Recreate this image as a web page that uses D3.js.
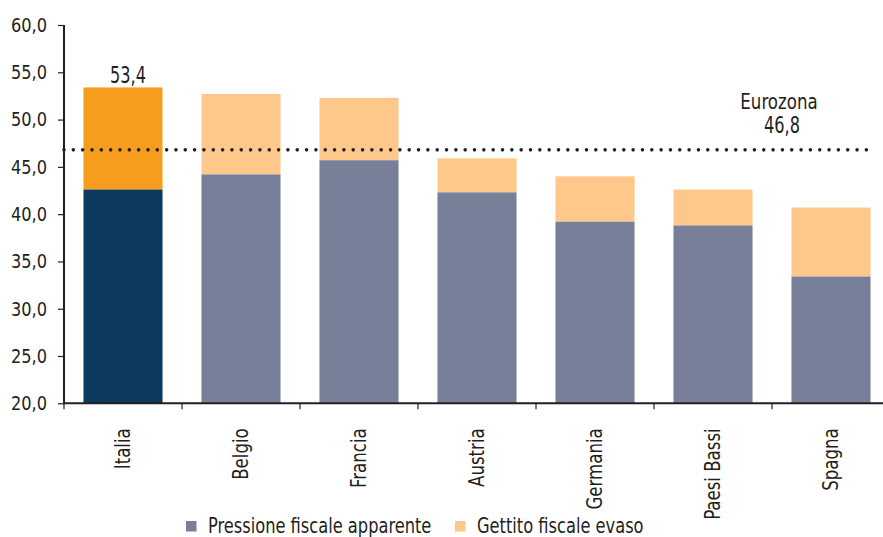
<!DOCTYPE html>
<html><head><meta charset="utf-8">
<script src="https://cdn.jsdelivr.net/npm/d3@7"></script>
<style>
html,body{margin:0;padding:0;background:#fff;}
svg{display:block;font-family:"DejaVu Sans Condensed","DejaVu Sans",sans-serif;}
</style></head><body>
<svg id="c" width="883" height="537"></svg>
<script>
const categories = ["Italia","Belgio","Francia","Austria","Germania","Paesi Bassi","Spagna"];
const pressione = [42.6, 44.2, 45.7, 42.3, 39.2, 38.8, 33.4];
const totale = [53.4, 52.7, 52.3, 45.9, 44.0, 42.6, 40.7];
const eurozona = 46.8;
const yTicks = [20,25,30,35,40,45,50,55,60];
const seriesNames = ["Pressione fiscale apparente","Gettito fiscale evaso"];

(function(){
const svg = d3.select("#c");
const mLeft = 64, mRight = 890, mTop = 25, mBottom = 403.3;
const ink = "#231f20";
const colBase = "#787f98", colEvaso = "#fec88a";
const colItBase = "#0b3a5e", colItEvaso = "#f69d1f";
const fmt = v => d3.format(".1f")(v).replace(".", ",");

// horizontally condense text to mimic a condensed typeface
function condense(sel, k) {
  sel.each(function() {
    const w = this.getComputedTextLength();
    d3.select(this).attr("textLength", w * k).attr("lengthAdjust", "spacingAndGlyphs");
  });
}

const x = d3.scaleBand().domain(categories).range([mLeft, mRight]).paddingInner(0.33).paddingOuter(0.165);
const y = d3.scaleLinear().domain([20, 60]).range([mBottom, mTop]);

const g = svg.append("g");
categories.forEach((c, i) => {
  const it = i === 0;
  g.append("rect").attr("x", x(c)).attr("width", x.bandwidth())
    .attr("y", y(totale[i])).attr("height", y(pressione[i]) - y(totale[i]))
    .attr("fill", it ? colItEvaso : colEvaso);
  g.append("rect").attr("x", x(c)).attr("width", x.bandwidth())
    .attr("y", y(pressione[i])).attr("height", y(20) - y(pressione[i]))
    .attr("fill", it ? colItBase : colBase);
});

const vl = svg.append("text").attr("x", x(categories[0]) + x.bandwidth()/2 + 5).attr("y", y(totale[0]) - 4)
  .attr("text-anchor", "middle").attr("font-size", 23).attr("fill", ink)
  .text(fmt(totale[0]));
condense(vl, 0.78);

svg.append("line").attr("x1", mLeft).attr("x2", 870)
  .attr("y1", y(eurozona)).attr("y2", y(eurozona))
  .attr("stroke", ink).attr("stroke-width", 3.6).attr("stroke-linecap", "round")
  .attr("stroke-dasharray", "0 9.33");
const ez1 = svg.append("text").attr("x", 779).attr("y", 109).attr("text-anchor", "middle")
  .attr("font-size", 22).attr("fill", ink).text("Eurozona");
const ez2 = svg.append("text").attr("x", 782).attr("y", 133).attr("text-anchor", "middle")
  .attr("font-size", 23).attr("fill", ink).text(fmt(eurozona));
condense(ez1, 0.84);
condense(ez2, 0.78);

const yAxis = d3.axisLeft(y).tickValues(yTicks).tickSize(6).tickPadding(11)
  .tickFormat(fmt);
const ya = svg.append("g").attr("transform", `translate(${mLeft},0)`).call(yAxis);
ya.select(".domain").attr("stroke", ink).attr("stroke-width", 2).attr("d", `M0,${mTop}V${mBottom}`);
ya.selectAll(".tick line").attr("stroke", ink).attr("stroke-width", 1.2);
ya.selectAll(".tick text").attr("font-size", 20).attr("fill", ink)
  .attr("font-family", "DejaVu Sans Condensed, DejaVu Sans, sans-serif");
condense(ya.selectAll(".tick text"), 0.9);

svg.append("line").attr("x1", mLeft - 1).attr("x2", 883).attr("y1", mBottom).attr("y2", mBottom)
  .attr("stroke", ink).attr("stroke-width", 2);
for (let i = 0; i <= categories.length; i++) {
  const xt = mLeft + x.step() * i;
  svg.append("line").attr("x1", xt).attr("x2", xt).attr("y1", mBottom).attr("y2", mBottom + 6)
    .attr("stroke", ink).attr("stroke-width", 1.2);
}
categories.forEach(c => {
  const cx = x(c) + x.bandwidth()/2;
  const t = svg.append("text").attr("transform", `translate(${cx + 7},${mBottom + 25}) rotate(-90)`)
    .attr("text-anchor", "end").attr("font-size", 20.5).attr("fill", ink).text(c);
  condense(t, 0.9);
});

const leg = [
  {name: seriesNames[0], col: colBase, sx: 186, tx: 208},
  {name: seriesNames[1], col: colEvaso, sx: 455, tx: 477}
];
leg.forEach(l => {
  svg.append("rect").attr("x", l.sx).attr("y", 521).attr("width", 10.5).attr("height", 10.5).attr("fill", l.col);
  const t = svg.append("text").attr("x", l.tx).attr("y", 533).attr("font-size", 21).attr("fill", ink).text(l.name);
  condense(t, 0.86);
});
})();
</script>
</body></html>
